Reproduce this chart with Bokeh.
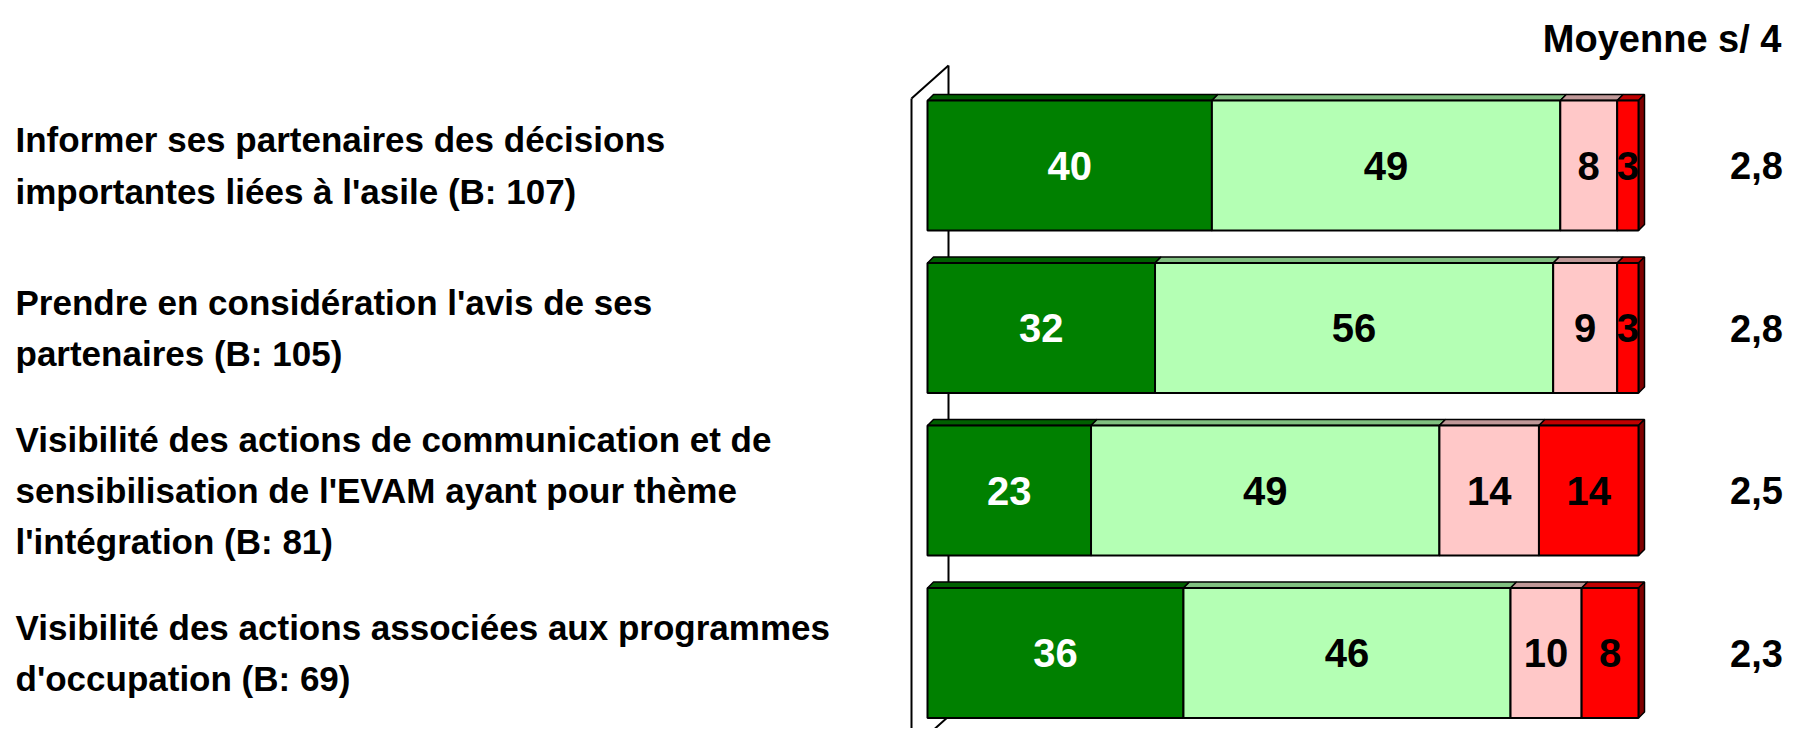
from bokeh.plotting import figure
from bokeh.models import Range1d, ColumnDataSource
from bokeh.core.properties import value
from bokeh.embed import file_html
from bokeh.resources import INLINE

# ---------------- data ----------------
labels = [
    "Informer ses partenaires des décisions\nimportantes liées à l'asile (B: 107)",
    "Prendre en considération l'avis de ses\npartenaires (B: 105)",
    "Visibilité des actions de communication et de\nsensibilisation de l'EVAM ayant pour thème\nl'intégration (B: 81)",
    "Visibilité des actions associées aux programmes\nd'occupation (B: 69)",
]
tres_satisfait = [40, 32, 23, 36]
plutot_satisfait = [49, 56, 49, 46]
plutot_insatisfait = [8, 9, 14, 10]
tres_insatisfait = [3, 3, 14, 8]
moyennes = ["2,8", "2,8", "2,5", "2,3"]
mean_title = "Moyenne s/ 4"

series = [tres_satisfait, plutot_satisfait, plutot_insatisfait, tres_insatisfait]
front_colors = ["#008000", "#B4FFB4", "#FFC8C8", "#FF0000"]
top_colors = ["#006000", "#80C080", "#C09898", "#C00000"]
side_color = "#800000"
label_colors = ["white", "black", "black", "black"]

# ---------------- geometry ----------------
W, H = 1788, 728
PXX = 7.11            # px per percent
PXY = 162.5           # px per row
X0 = 927              # canvas x of 0 %
Y0 = 165              # canvas y of first row centre
BAR_H = 0.8
DEPTH = 6.0
dx = DEPTH / PXX
dy = DEPTH / PXY


def cx(px):
    return (px - X0) / PXX


def cy(px):
    return (px - Y0) / PXY


p = figure(width=W, height=H, output_backend="svg", toolbar_location=None,
           x_range=Range1d(cx(0), cx(W)),
           y_range=Range1d(cy(H), cy(0)),
           x_axis_location=None, y_axis_location=None, min_border=0)
p.grid.visible = False
p.outline_line_color = None
p.background_fill_color = "white"
p.border_fill_color = "white"

# wall (left edge of the 3D chart)
wf, wb = cx(911), cx(948)
w_top_front, w_top_back = cy(98), cy(65)
w_bot_back, w_bot_front = cy(716), cy(749)
p.line([wf, wb], [w_top_front, w_top_back], line_color="black", line_width=2)
p.line([wb, wb], [w_top_back, w_bot_back], line_color="black", line_width=2)
p.line([wf, wf], [w_top_front, cy(H + 20)], line_color="black", line_width=2)
p.line([wb, wf], [w_bot_back, w_bot_front], line_color="black", line_width=2)

n = len(labels)
rows = list(range(n))

for k, s in enumerate(series):
    lefts = [sum(series[j][i] for j in range(k)) for i in rows]
    rights = [lefts[i] + s[i] for i in rows]
    tops = [i - BAR_H / 2 for i in rows]
    bots = [i + BAR_H / 2 for i in rows]
    # top faces
    xs = [[lefts[i], rights[i], rights[i] + dx, lefts[i] + dx] for i in rows]
    ys = [[tops[i], tops[i], tops[i] - dy, tops[i] - dy] for i in rows]
    p.patches(xs, ys, fill_color=top_colors[k], line_color="black", line_width=1.5)
    if k == len(series) - 1:
        sx = [[rights[i], rights[i] + dx, rights[i] + dx, rights[i]] for i in rows]
        sy = [[tops[i], tops[i] - dy, bots[i] - dy, bots[i]] for i in rows]
        p.patches(sx, sy, fill_color=side_color, line_color="black", line_width=1.5)
    p.quad(left=lefts, right=rights, top=tops, bottom=bots,
           fill_color=front_colors[k], line_color="black", line_width=2)
    src = ColumnDataSource(dict(x=[(lefts[i] + rights[i]) / 2 for i in rows], y=rows,
                                t=[str(v) for v in s]))
    p.text(x="x", y="y", text="t", source=src, text_align="center",
           text_baseline="middle", text_font=value("Liberation Sans"),
           text_font_style="bold", text_font_size="40px", text_color=label_colors[k])

# category labels
lab_src = ColumnDataSource(dict(x=[cx(15)] * n, y=rows, t=labels))
p.text(x="x", y="y", text="t", source=lab_src, text_align="left",
       text_baseline="middle", text_font=value("Liberation Sans"),
       text_font_style="bold", text_font_size="35px", text_color="black",
       text_line_height=1.32)

# means
mean_src = ColumnDataSource(dict(x=[cx(1756)] * n, y=rows, t=moyennes))
p.text(x="x", y="y", text="t", source=mean_src, text_align="center",
       text_baseline="middle", text_font=value("Liberation Sans"),
       text_font_style="bold", text_font_size="38px", text_color="black")

p.text(x=[cx(1781)], y=[cy(38)], text=[mean_title],
       text_align="right", text_baseline="middle",
       text_font=value("Liberation Sans"), text_font_style="bold",
       text_font_size="38px", text_color="black")

open("out.html", "w").write(file_html(p, INLINE))
